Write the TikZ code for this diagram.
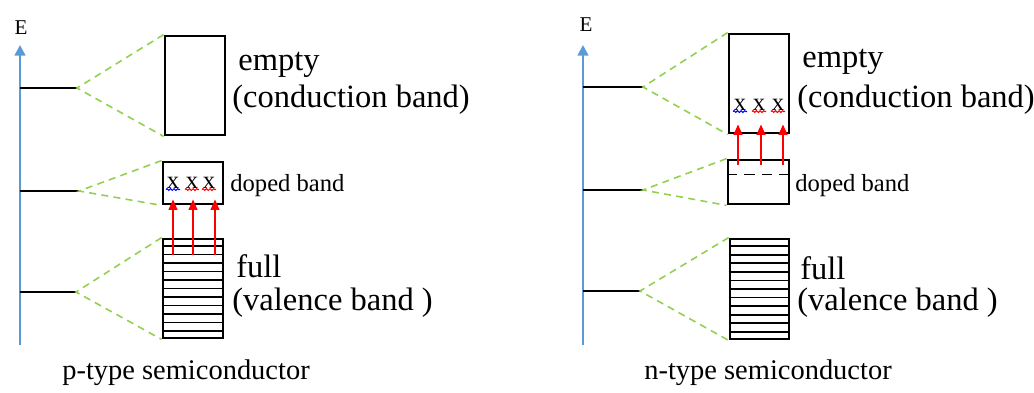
\documentclass[tikz,border=0pt]{standalone}
\usepackage{fontspec}
\setmainfont{Liberation Serif}
\usetikzlibrary{arrows.meta,calc,decorations.pathmorphing}
\definecolor{axisblue}{RGB}{91,155,213}
\definecolor{guidegreen}{RGB}{146,208,80}

\begin{document}
\begin{tikzpicture}[x=0.02cm, y=-0.02cm,
        band/.style={draw, line width=1.6pt, inner sep=0, minimum width=1.2cm},
        axis/.style={axisblue, line width=1.4pt, -{Triangle[width=6pt, length=6pt]}},
        level/.style={line width=0.8pt},
        guide/.style={guidegreen, line width=0.9pt, dash pattern=on 4pt off 3pt},
        excite/.style={red, line width=1pt, -{Triangle[width=5pt, length=6pt]}},
        carrier/.style={font=\fontsize{14}{16}\selectfont, inner sep=0.3pt},
        squiggle/.style={decorate, decoration={snake, amplitude=0.5pt, segment length=2pt}, line width=0.6pt},
        bigtext/.style={font=\fontsize{18.5}{22}\selectfont, inner sep=0, anchor=west},
        smalltext/.style={font=\fontsize{14}{16}\selectfont, inner sep=0, anchor=west},
        titletext/.style={font=\fontsize{16.2}{19}\selectfont, inner sep=0}
    ]
    \useasboundingbox (0,0) rectangle (1034,392);

    % p-type: energy axis and levels
    \coordinate (pbot) at (20,345);
    \coordinate (ptop) at (20,45);
    \draw[axis] (pbot) -- (ptop);
    \node[font=\fontsize{12}{13}\selectfont] (pE) at (21,28) {E};
    \coordinate (pl1) at (77,88);
    \coordinate (pl2) at (79,191);
    \coordinate (pl3) at (76,292);
    \draw[level] (pl1 -| pbot) -- (pl1);
    \draw[level] (pl2 -| pbot) -- (pl2);
    \draw[level] (pl3 -| pbot) -- (pl3);

    % p-type: bands
    \node[band, minimum height=1.98cm] (pcb) at (195,85.5) {};
    \node[band, minimum height=0.84cm] (pdb) at (193,183) {};
    \node[band, minimum height=1.98cm] (pvb) at (193,288.5) {};
    \foreach \i in {1,...,11}
        \draw[line width=1pt] ($(pvb.north west)!\i/12!(pvb.south west)$) -- ($(pvb.north east)!\i/12!(pvb.south east)$);

    \draw[guide] (pcb.north west) -- (pl1) -- (pcb.south west);
    \draw[guide] (pdb.north west) -- (pl2) -- (pdb.south west);
    \draw[guide] (pvb.north west) -- (pl3) -- (pvb.south west);

    % p-type: holes
    \foreach \n/\x/\c in {1/173/blue, 2/192/red, 3/209/red} {
        \node[carrier] (px\n) at (\x,183) {x};
        \draw[squiggle, \c] (px\n.south west) -- (px\n.south east);
    }
    \foreach \n/\x in {1/173, 2/193, 3/215} {
        \coordinate (pe\n) at (\x,255);
        \draw[excite] (pe\n) -- ($(pe\n |- pdb.south)+(0,-6)$);
    }

    \node[bigtext] (pempty) at (238,65) {empty};
    \node[bigtext] (pcond) at (232,100) {(conduction band)};
    \node[smalltext] (pdoped) at (230,186) {doped band};
    \node[bigtext] (pfull) at (236,266) {full};
    \node[bigtext] (pval) at (232,303) {(valence band )};
    \node[titletext] (ptitle) at (186,373) {p-type semiconductor};

    % n-type: energy axis and levels
    \coordinate (nbot) at (583,345);
    \coordinate (ntop) at (583,45);
    \draw[axis] (nbot) -- (ntop);
    \node[font=\fontsize{12}{13}\selectfont] (nE) at (586,25) {E};
    \coordinate (nl1) at (643,87);
    \coordinate (nl2) at (643,190);
    \coordinate (nl3) at (640,291);
    \draw[level] (nl1 -| nbot) -- (nl1);
    \draw[level] (nl2 -| nbot) -- (nl2);
    \draw[level] (nl3 -| nbot) -- (nl3);

    % n-type: bands
    \node[band, minimum height=1.98cm] (ncb) at (759,83.5) {};
    \node[band, minimum width=1.22cm, minimum height=0.88cm] (ndb) at (758.5,182) {};
    \node[band, minimum width=1.18cm, minimum height=2cm] (nvb) at (759.5,289) {};
    \foreach \i in {1,...,11}
        \draw[line width=1pt] ($(nvb.north west)!\i/12!(nvb.south west)$) -- ($(nvb.north east)!\i/12!(nvb.south east)$);
    \draw[line width=0.8pt, dash pattern=on 6pt off 4pt] ($(ndb.north west)!0.34!(ndb.south west)$) -- ($(ndb.north east)!0.34!(ndb.south east)$);

    \draw[guide] (ncb.north west) -- (nl1) -- (ncb.south west);
    \draw[guide] (ndb.north west) -- (nl2) -- (ndb.south west);
    \draw[guide] (nvb.north west) -- (nl3) -- (nvb.south west);

    % n-type: electrons
    \foreach \n/\x/\c in {1/740/blue, 2/759/red, 3/778/red} {
        \node[carrier] (nx\n) at (\x,105) {x};
        \draw[squiggle, \c] (nx\n.south west) -- (nx\n.south east);
    }
    \foreach \n/\x in {1/738, 2/761, 3/783} {
        \coordinate (ne\n) at (\x,165);
        \draw[excite] (ne\n) -- ($(ne\n |- ncb.south)+(0,-10)$);
    }

    \node[bigtext] (nempty) at (802,62) {empty};
    \node[bigtext] (ncond) at (797,100) {(conduction band)};
    \node[smalltext] (ndoped) at (795,186) {doped band};
    \node[bigtext] (nfull) at (800,268) {full};
    \node[bigtext] (nval) at (797,303) {(valence band )};
    \node[titletext] (ntitle) at (768,373) {n-type semiconductor};

\end{tikzpicture}
\end{document}
